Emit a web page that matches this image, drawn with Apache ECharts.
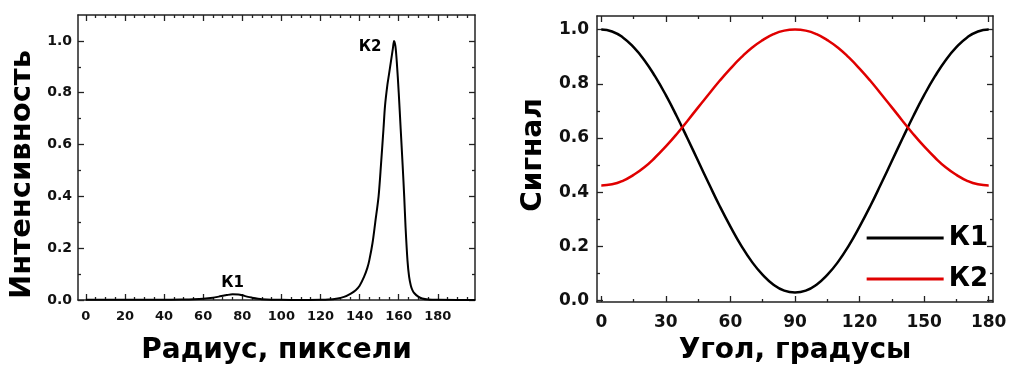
<!DOCTYPE html>
<html>
<head>
<meta charset="utf-8">
<script src="https://cdn.jsdelivr.net/npm/echarts@6/dist/echarts.min.js"></script>
<style>
html,body{margin:0;padding:0;background:#fff;}
#c{width:1011px;height:365px;}
</style>
</head>
<body>
<div id="c"></div>
<script>
// ---- Left panel: intensity profile ----
const radius = [0,10,20,30,40,50,55,60,65,68,70,72,75,78,80,83,85,88,90,95,100,110,120,124,128,132,135.5,138,140,142.3,144,145,146.6,148,149.7,151,152.2,153,154.2,155,156,157,157.6,158.3,159,160,161,162,162.8,163.5,164.5,165.3,166.2,167,168,170,172,175,180,190,199];
const intensity = [0.001,0.001,0.001,0.001,0.001,0.002,0.003,0.005,0.009,0.013,0.016,0.019,0.022,0.021,0.018,0.012,0.009,0.005,0.003,0.001,0.0005,0,0.001,0.002,0.005,0.012,0.025,0.038,0.055,0.09,0.125,0.155,0.22,0.3,0.4,0.53,0.66,0.75,0.83,0.87,0.92,0.97,1.0,0.98,0.92,0.8,0.66,0.52,0.4,0.28,0.15,0.09,0.055,0.038,0.026,0.013,0.006,0.002,0.0005,0,0];
const peakLabels = [{r:75, v:0.022, text:'К1'}, {r:157.6, v:1.0, text:'К2'}];
const leftXTicks = [0,20,40,60,80,100,120,140,160,180];
const leftYTicks = [0,0.2,0.4,0.6,0.8,1.0];

// ---- Right panel: signal vs angle ----
const angle = [0,5,10,15,20,25,30,35,40,45,50,55,60,65,70,75,80,85,90,95,100,105,110,115,120,125,130,135,140,145,150,155,160,165,170,175,180];
const k1 = [1.000,0.993,0.971,0.935,0.887,0.827,0.758,0.681,0.599,0.515,0.431,0.349,0.273,0.203,0.143,0.095,0.059,0.037,0.030,0.037,0.059,0.095,0.143,0.203,0.273,0.349,0.431,0.515,0.599,0.681,0.758,0.827,0.887,0.935,0.971,0.993,1.000];
const k2 = [0.425,0.429,0.442,0.464,0.492,0.528,0.569,0.614,0.663,0.713,0.762,0.811,0.856,0.897,0.933,0.961,0.983,0.996,1.000,0.996,0.983,0.961,0.933,0.897,0.856,0.811,0.762,0.713,0.663,0.614,0.569,0.528,0.492,0.464,0.442,0.429,0.425];
const seriesNames = ['К1','К2'];
const rightXTicks = [0,30,60,90,120,150,180];
const rightYTicks = [0,0.2,0.4,0.6,0.8,1.0];

const FONT = 'DejaVu Sans';
const AX = '#222';

function minorBetween(ticks, step, maxV){
  const out = [];
  for (let i = 0; i < ticks.length; i++) {
    const a = ticks[i];
    const b = (i + 1 < ticks.length) ? ticks[i+1] : maxV;
    for (let v = a + step; v < b - 1e-9; v += step) out.push(+v.toFixed(6));
  }
  return out;
}

const leftXMinor = minorBetween(leftXTicks, 5, 199);
const leftYMinor = minorBetween(leftYTicks, 0.1, 1.1);
const rightXMinor = minorBetween(rightXTicks, 15, 180.5);
const rightYMinor = minorBetween(rightYTicks, 0.1, 1.05);

const gridL = {left:78, right:536, top:15, bottom:65};
const gridR = {left:597, right:18, top:16, bottom:63};

function ax(grid, pos, min, max, ticks, len, showLine, opts){
  return Object.assign({
    type:'value', gridIndex:grid, position:pos, min:min, max:max,
    axisLine:{show:showLine, onZero:false, lineStyle:{color:AX, width:1.5}},
    axisTick:{show:true, inside:true, length:len, customValues:ticks, lineStyle:{color:AX, width:1.3}},
    axisLabel:{show:false},
    splitLine:{show:false}
  }, opts||{});
}

const option = {
  animation:false,
  backgroundColor:'#fff',
  grid:[gridL, gridL, gridR, gridR].map(g => Object.assign({containLabel:false, outerBoundsMode:'none'}, g)),
  legend:{
    data:seriesNames, orient:'vertical', right:18, top:220,
    icon:'rect', itemWidth:77, itemHeight:3, itemGap:15, itemTextGap:6,
    textStyle:{fontFamily:FONT, fontWeight:'bold', fontSize:26, color:'#000'}
  },
  xAxis:[
    ax(0,'bottom',-4,199,leftXTicks,6,true,{
      axisLabel:{show:true, customValues:leftXTicks, margin:10, fontFamily:FONT, fontWeight:'bold', fontSize:13, color:'#111'},
      name:'Радиус, пиксели', nameLocation:'middle', nameGap:37,
      nameTextStyle:{fontFamily:FONT, fontWeight:'bold', fontSize:28, color:'#000'}
    }),
    ax(0,'top',-4,199,leftXTicks,6,true),
    ax(1,'bottom',-4,199,leftXMinor,3,false),
    ax(1,'top',-4,199,leftXMinor,3,false),
    ax(2,'bottom',-2,182,rightXTicks,6,true,{
      axisLabel:{show:true, customValues:rightXTicks, margin:12, fontFamily:FONT, fontWeight:'bold', fontSize:17, color:'#111'},
      name:'Угол, градусы', nameLocation:'middle', nameGap:35,
      nameTextStyle:{fontFamily:FONT, fontWeight:'bold', fontSize:28, color:'#000'}
    }),
    ax(2,'top',-2,182,rightXTicks,6,true),
    ax(3,'bottom',-2,182,rightXMinor,3,false),
    ax(3,'top',-2,182,rightXMinor,3,false)
  ],
  yAxis:[
    ax(0,'left',0,1.1,leftYTicks,6,true,{
      axisLabel:{show:true, customValues:leftYTicks, margin:6, fontFamily:FONT, fontWeight:'bold', fontSize:14, color:'#111', formatter:v=>v.toFixed(1)},
      name:'Интенсивность', nameLocation:'middle', nameGap:41,
      nameTextStyle:{fontFamily:FONT, fontWeight:'bold', fontSize:29, color:'#000', padding:[0,34,0,0]}
    }),
    ax(0,'right',0,1.1,leftYTicks,6,true),
    ax(1,'left',0,1.1,leftYMinor,3,false),
    ax(1,'right',0,1.1,leftYMinor,3,false),
    ax(2,'left',-0.005,1.05,rightYTicks,6,true,{
      axisLabel:{show:true, customValues:rightYTicks, margin:8, fontFamily:FONT, fontWeight:'bold', fontSize:17, color:'#111', formatter:v=>v.toFixed(1)},
      name:'Сигнал', nameLocation:'middle', nameGap:49,
      nameTextStyle:{fontFamily:FONT, fontWeight:'bold', fontSize:28, color:'#000', padding:[0,0,0,8]}
    }),
    ax(2,'right',-0.005,1.05,rightYTicks,6,true),
    ax(3,'left',-0.005,1.05,rightYMinor,3,false),
    ax(3,'right',-0.005,1.05,rightYMinor,3,false)
  ],
  series:[
    {
      type:'line', xAxisIndex:0, yAxisIndex:0, showSymbol:false, symbol:'none', smooth:0.3,
      lineStyle:{color:'#000', width:2},
      data:radius.map((r,i)=>[r,intensity[i]]),
      markPoint:{
        symbol:'circle', symbolSize:1, itemStyle:{color:'rgba(0,0,0,0)'},
        label:{show:true, fontFamily:FONT, fontWeight:'bold', fontSize:15, color:'#000'},
        data:[
          {coord:[peakLabels[0].r, peakLabels[0].v], value:peakLabels[0].text, label:{formatter:peakLabels[0].text, position:'top', distance:3, offset:[0,0]}},
          {coord:[peakLabels[1].r, peakLabels[1].v], value:peakLabels[1].text, label:{formatter:peakLabels[1].text, position:'left', distance:12, offset:[0,6]}}
        ]
      }
    },
    {
      name:seriesNames[0], type:'line', xAxisIndex:4, yAxisIndex:4, showSymbol:false, symbol:'none', smooth:true,
      itemStyle:{color:'#000'}, lineStyle:{color:'#000', width:2.5},
      data:angle.map((a,i)=>[a,k1[i]])
    },
    {
      name:seriesNames[1], type:'line', xAxisIndex:4, yAxisIndex:4, showSymbol:false, symbol:'none', smooth:true,
      itemStyle:{color:'#e00000'}, lineStyle:{color:'#e00000', width:2.5},
      data:angle.map((a,i)=>[a,k2[i]])
    }
  ]
};

const chart = echarts.init(document.getElementById('c'), null, {renderer:'canvas'});
chart.setOption(option);
</script>
</body>
</html>
